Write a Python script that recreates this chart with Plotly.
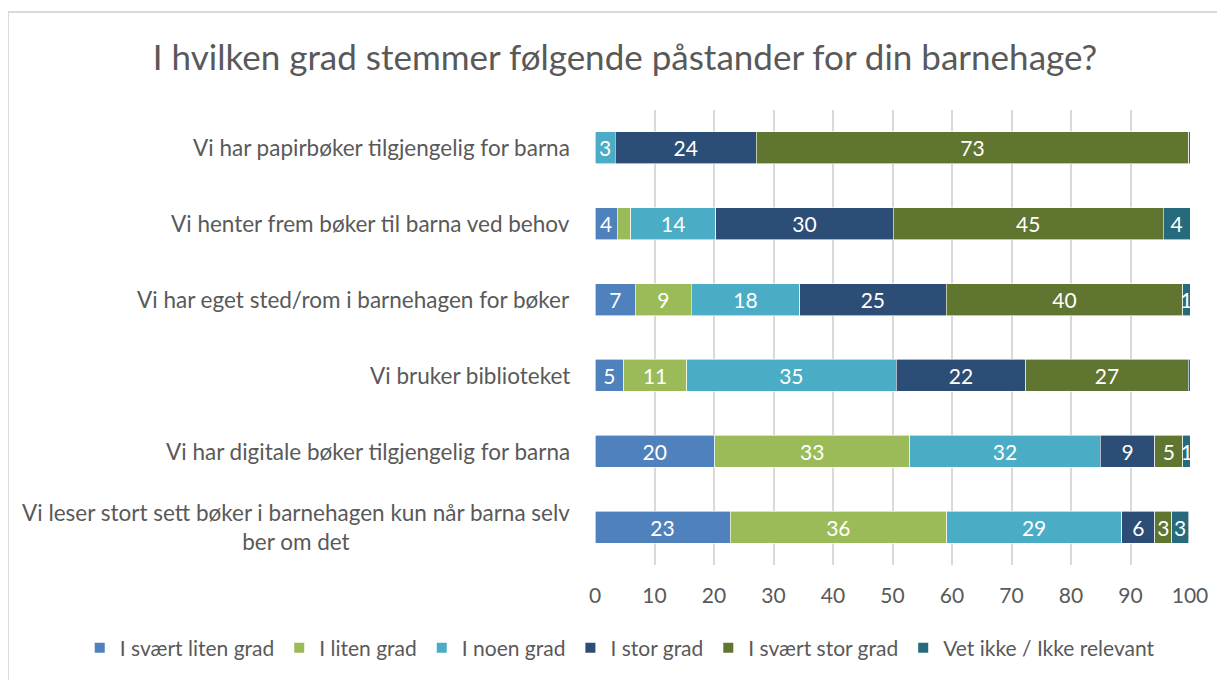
import plotly.graph_objects as go

categories = [
    "Vi har papirbøker tilgjengelig for barna",
    "Vi henter frem bøker til barna ved behov",
    "Vi har eget sted/rom i barnehagen for bøker",
    "Vi bruker biblioteket",
    "Vi har digitale bøker tilgjengelig for barna",
    "Vi leser stort sett bøker i barnehagen kun når barna selv<br>ber om det",
]
series_names = ["I svært liten grad", "I liten grad", "I noen grad",
                "I stor grad", "I svært stor grad", "Vet ikke / Ikke relevant"]
svaert_liten = [0, 3.7, 6.8, 4.8, 20.1, 22.7]
liten = [0, 2.3, 9.4, 10.6, 32.8, 36.4]
noen = [3.4, 14.3, 18.2, 35.2, 32.0, 29.4]
stor = [23.7, 29.8, 24.6, 21.8, 9.2, 5.6]
svaert_stor = [72.7, 45.4, 39.8, 27.3, 4.7, 2.8]
vet_ikke = [0.2, 4.5, 1.2, 0.3, 1.3, 2.9]
labels_svaert_liten = ["", "4", "7", "5", "20", "23"]
labels_liten = ["", "", "9", "11", "33", "36"]
labels_noen = ["3", "14", "18", "35", "32", "29"]
labels_stor = ["24", "30", "25", "22", "9", "6"]
labels_svaert_stor = ["73", "45", "40", "27", "5", "3"]
labels_vet_ikke = ["", "4", "1", "", "1", "3"]
colors = ["#4F81BD", "#9BBB59", "#4BACC6", "#2C4D75", "#5F7530", "#276A7C"]
x_ticks = [0, 10, 20, 30, 40, 50, 60, 70, 80, 90, 100]

values = [svaert_liten, liten, noen, stor, svaert_stor, vet_ikke]
texts = [labels_svaert_liten, labels_liten, labels_noen, labels_stor,
         labels_svaert_stor, labels_vet_ikke]

FONT = "Lato"
GREY = "#595959"
ypos = list(range(len(categories)))

fig = go.Figure()
for name, vals, txt, col in zip(series_names, values, texts, colors):
    fig.add_trace(go.Bar(
        y=ypos, x=vals, name=name, orientation="h",
        marker=dict(color=col, line=dict(width=0.6, color="white")),
        text=txt, textposition="inside", insidetextanchor="middle",
        textangle=0, constraintext="none",
        textfont=dict(color="white", size=21, family=FONT),
        width=0.42, hoverinfo="x+name",
    ))

annotations = []
for i, c in enumerate(categories):
    annotations.append(dict(
        x=-0.038, xref="paper", y=i, yref="y", text=c, showarrow=False,
        xanchor="right", yanchor="middle", align="center",
        font=dict(family=FONT, size=22.5, color=GREY),
    ))

fig.update_layout(
    barmode="stack",
    width=1217, height=672,
    margin=dict(l=587, r=35, t=102, b=115, autoexpand=False),
    paper_bgcolor="white", plot_bgcolor="white",
    title=dict(text="I hvilken grad stemmer følgende påstander for din barnehage?",
               x=0.507, xref="container", xanchor="center",
               y=0.9256, yref="container", yanchor="middle",
               font=dict(family=FONT, size=35, color=GREY)),
    xaxis=dict(range=[0, 100], tickvals=x_ticks, showgrid=True,
               gridcolor="#D9D9D9", gridwidth=1.5, zeroline=False,
               tickfont=dict(family=FONT, size=21, color=GREY),
               ticks="", ticklabelstandoff=16, fixedrange=True),
    yaxis=dict(range=[5.5, -0.5], showticklabels=False, showgrid=False,
               zeroline=False, fixedrange=True),
    legend=dict(orientation="h", x=-0.866, xref="paper", xanchor="left",
                y=-0.1824, yref="paper", yanchor="middle", traceorder="normal",
                font=dict(family=FONT, size=21, color=GREY),
                itemwidth=30, itemsizing="constant", tracegroupgap=0),
    annotations=annotations,
    shapes=[
        dict(type="line", xref="paper", yref="paper", x0=-0.9866, x1=1.2,
             y0=1.2154, y1=1.2154, line=dict(color="#D9D9D9", width=2)),
        dict(type="line", xref="paper", yref="paper", x0=-0.9866, x1=-0.9866,
             y0=1.2154, y1=-0.4, line=dict(color="#D9D9D9", width=2)),
    ],
    showlegend=True,
)
fig.write_html("out.html")
